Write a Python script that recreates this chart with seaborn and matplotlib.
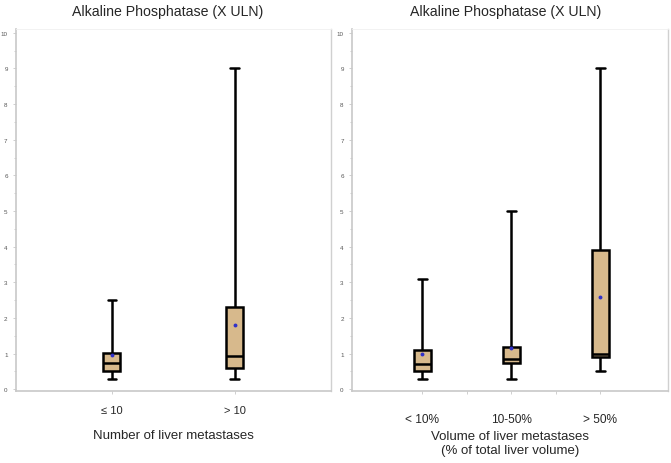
import matplotlib
matplotlib.use("Agg")
import matplotlib.pyplot as plt
import seaborn as sns
import pandas as pd
from matplotlib.ticker import MultipleLocator, FixedLocator

sns.set_style("white")
plt.rcParams['font.family'] = ['Liberation Sans', 'DejaVu Sans']

# Left panel: number of liver metastases (five-number summaries + mean)
num_groups = ['≤ 10', '> 10']
num_low = [0.3, 0.3]
num_q1 = [0.5, 0.6]
num_median = [0.75, 0.92]
num_q3 = [1.02, 2.3]
num_high = [2.5, 9.0]
num_mean = [0.95, 1.8]

# Right panel: volume of liver metastases
vol_groups = ['< 10%', '10-50%', '> 50%']
vol_low = [0.3, 0.3, 0.5]
vol_q1 = [0.5, 0.75, 0.9]
vol_median = [0.7, 0.85, 1.0]
vol_q3 = [1.1, 1.2, 3.9]
vol_high = [3.1, 5.0, 9.0]
vol_mean = [1.0, 1.15, 2.6]


def summary_frame(groups, lo, q1, med, q3, hi):
    rows = []
    for i, g in enumerate(groups):
        for v in (lo[i], q1[i], med[i], q3[i], hi[i]):
            rows.append({'group': g, 'value': v})
    return pd.DataFrame(rows)


box_color = '#D7B98C'
mean_color = '#3030C8'
axis_gray = '#C8C8C8'

fig = plt.figure(figsize=(6.71, 4.64), dpi=100)
ax1 = fig.add_axes([0.0238, 0.155, 0.469, 0.78])
ax2 = fig.add_axes([0.5246, 0.155, 0.471, 0.78])

# axes, groups, data, means, box width, xlim, xlabel, tick size, tick pad, label pad, title x
panels = [
    (ax1, num_groups, summary_frame(num_groups, num_low, num_q1, num_median, num_q3, num_high),
     num_mean, 0.14, (-0.78, 1.78), 'Number of liver metastases', 8, 8, 10, 0.483),
    (ax2, vol_groups, summary_frame(vol_groups, vol_low, vol_q1, vol_median, vol_q3, vol_high),
     vol_mean, 0.19, (-0.79, 2.76), 'Volume of liver metastases\n(% of total liver volume)',
     8.6, 14, 3.5, 0.485),
]

for ax, groups, df, means, width, xlim, xlabel, tsize, tpad, lpad, tx in panels:
    sns.boxplot(data=df, x='group', y='value', order=groups, whis=(0, 100),
                width=width, color=box_color, linecolor='black', linewidth=1.8,
                saturation=1, ax=ax)
    sns.stripplot(x=groups, y=means, order=groups, jitter=False, color=mean_color,
                  size=2.8, linewidth=0, ax=ax, zorder=5)
    ax.set_xlim(*xlim)
    ax.set_ylim(-0.05, 10.1)
    ax.yaxis.set_major_locator(MultipleLocator(1))
    ax.yaxis.set_minor_locator(MultipleLocator(0.5))
    ax.tick_params(axis='y', which='major', labelsize=4.5, labelcolor='#555555',
                   length=2.5, color=axis_gray, width=0.6, left=True, pad=3.5)
    ax.tick_params(axis='y', which='minor', length=1.5, color=axis_gray, width=0.6, left=True)
    ax.tick_params(axis='x', which='major', labelsize=tsize, length=2, color=axis_gray,
                   width=0.6, bottom=True, pad=tpad)
    ax.set_xlabel(xlabel, fontsize=9.5, labelpad=lpad)
    ax.set_ylabel('')
    ax.set_title('Alkaline Phosphatase (X ULN)', fontsize=10.2, pad=10, x=tx)
    for side in ['left', 'bottom']:
        ax.spines[side].set_color(axis_gray)
        ax.spines[side].set_linewidth(1.2)
    ax.spines['right'].set_color('#D0D0D0')
    ax.spines['right'].set_linewidth(1.0)
    ax.spines['top'].set_color('#F0F0F0')
    ax.spines['top'].set_linewidth(0.6)

ax2.xaxis.set_minor_locator(FixedLocator([0.5, 1.5]))
ax2.tick_params(axis='x', which='minor', length=2, color=axis_gray, width=0.6, bottom=True)

fig.savefig('out.png', dpi=100)
